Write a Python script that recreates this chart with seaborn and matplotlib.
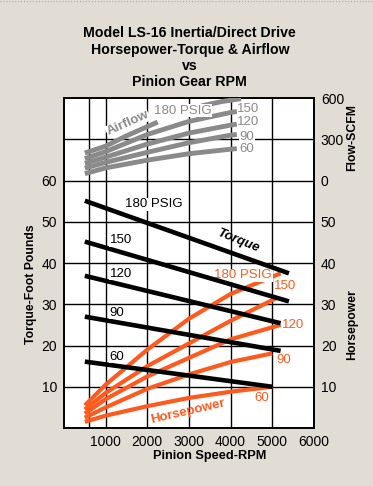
import numpy as np
import pandas as pd
import matplotlib
matplotlib.use("Agg")
import matplotlib.pyplot as plt
import seaborn as sns

# Presiuni (PSIG) pentru fiecare curba
psig = [180, 150, 120, 90, 60]

# Cuplu (ft-lb) - linii drepte
torque_rpm = [[500, 5400], [500, 5400], [500, 5200], [500, 5200], [500, 5000]]
torque_val = [[55.1, 37.5], [45.2, 30.7], [36.9, 25.4], [27.0, 18.7], [16.1, 10.0]]

# Putere (HP)
hp_rpm = [[500, 1000, 2000, 3000, 4000, 5200],
          [500, 1000, 2000, 3000, 4000, 5100],
          [500, 1000, 2000, 3000, 4000, 5200],
          [500, 1000, 2000, 3000, 4000, 5000],
          [500, 1000, 2000, 3000, 4000, 5000]]
hp_val = [[5.5, 10.5, 19.0, 26.5, 32.5, 37.5],
          [4.5, 8.5, 15.0, 20.5, 26.0, 31.5],
          [3.5, 7.0, 12.5, 17.0, 21.5, 25.0],
          [2.5, 5.0, 9.5, 13.0, 16.0, 18.1],
          [1.5, 3.0, 5.3, 7.3, 8.8, 10.0]]

# Debit aer (SCFM); linia de 180 PSIG e intrerupta de eticheta
flow_names = ["180a", "180b", "150", "120", "90", "60"]
flow_rpm = [[500, 1000, 1500, 2250],
            [3300, 3800, 4250],
            [500, 1000, 2000, 3000, 4000, 4150],
            [500, 1000, 2000, 3000, 4000, 4150],
            [500, 1000, 2000, 3000, 4000, 4150],
            [500, 1000, 2000, 3000, 4000, 4150]]
flow_val = [[200, 250, 325, 425],
            [543, 575, 595],
            [160, 210, 335, 430, 495, 502],
            [125, 170, 265, 345, 403, 410],
            [90, 132, 205, 275, 330, 335],
            [50, 92, 148, 195, 228, 232]]

x_ticks = [1000, 2000, 3000, 4000, 5000, 6000]
left_ticks = [10, 20, 30, 40, 50, 60]
hp_ticks = [10, 20, 30, 40, 50]
flow_ticks = [0, 300, 600]

BG = "#E2DDD4"
ORANGE = "#FF5A1E"
GRAY = "#8A8A8A"
FS = 10
LFS = 9.5


def long_frame(rpm_lists, val_lists, names):
    rows = []
    for name, xs, ys in zip(names, rpm_lists, val_lists):
        for x, y in zip(xs, ys):
            rows.append({"rpm": x, "val": y, "psig": name})
    return pd.DataFrame(rows)


df_torque = long_frame(torque_rpm, torque_val, psig)
df_hp = long_frame(hp_rpm, hp_val, psig)
df_flow = long_frame(flow_rpm, flow_val, flow_names)

sns.set_theme(style="white")
plt.rcParams['font.family'] = ['Liberation Sans', 'DejaVu Sans']
plt.rcParams['text.color'] = 'black'
plt.rcParams['xtick.color'] = 'black'
plt.rcParams['ytick.color'] = 'black'

fig = plt.figure(figsize=(3.73, 4.86), dpi=100, facecolor=BG)
ax = fig.add_axes([0.1716, 0.1193, 0.670, 0.679])
ax.set_facecolor("white")

ax.set_xlim(0, 6000)
ax.set_ylim(0, 80)
ax.set_xticks(x_ticks)
ax.set_xticks([600], minor=True)
ax.set_yticks(left_ticks + [70])
ax.set_yticklabels([str(t) for t in left_ticks] + [""])
ax.tick_params(which="both", length=0, labelsize=FS, pad=5)
ax.grid(True, which="both", color="black", lw=1.0)
ax.set_axisbelow(True)
for s in ax.spines.values():
    s.set_color("black")
    s.set_linewidth(1.4)

# Putere - portocaliu
sns.lineplot(data=df_hp, x="rpm", y="val", units="psig", estimator=None,
             sort=False, color=ORANGE, lw=3.0, ax=ax, legend=False,
             solid_capstyle="butt", zorder=3)
# Cuplu - negru
sns.lineplot(data=df_torque, x="rpm", y="val", units="psig", estimator=None,
             sort=False, color="black", lw=3.3, ax=ax, legend=False,
             solid_capstyle="butt", zorder=4)
ax.set_xlabel("")
ax.set_ylabel("")

# axa dreapta pentru HP (aceeasi scala)
ax_hp = ax.twinx()
ax_hp.set_ylim(0, 80)
ax_hp.set_yticks(hp_ticks)
ax_hp.tick_params(length=0, labelsize=FS, pad=5)
ax_hp.grid(False)
for s in ax_hp.spines.values():
    s.set_visible(False)

# axa dreapta pentru debit: 0 SCFM la 60 ft-lb, 600 SCFM la 80
ax_fl = ax.twinx()
ax_fl.set_ylim(-1800, 600)
ax_fl.set_yticks(flow_ticks)
ax_fl.tick_params(length=0, labelsize=FS, pad=5)
ax_fl.grid(False)
for s in ax_fl.spines.values():
    s.set_visible(False)
sns.lineplot(data=df_flow, x="rpm", y="val", units="psig", estimator=None,
             sort=False, color=GRAY, lw=3.5, ax=ax_fl, legend=False,
             solid_capstyle="butt", zorder=3)
ax_fl.set_xlabel("")
ax_fl.set_ylabel("")
ax_fl.set_xlim(0, 6000)

box = dict(facecolor="white", edgecolor="none", pad=0.4)

# etichete cuplu
for txt, x, y in [("180 PSIG", 1460, 54.3), ("150", 1095, 45.5), ("120", 1095, 37.4),
                  ("90", 1095, 27.9), ("60", 1095, 17.3)]:
    ax.text(x, y, txt, ha="left", va="center", fontsize=LFS, color="black",
            bbox=box, zorder=5)
ax.text(4170, 45.3, "Torque", ha="center", va="center", fontsize=LFS,
        fontweight="bold", fontstyle="italic", rotation=-22, zorder=5)

# etichete putere (sub liniile negre)
for txt, x, y in [("180 PSIG", 3610, 37.0), ("150", 5050, 34.4), ("120", 5240, 24.9),
                  ("90", 5100, 16.5), ("60", 4570, 7.2)]:
    ax.text(x, y, txt, ha="left", va="center", fontsize=LFS, color=ORANGE,
            bbox=box, zorder=3.5)
ax.text(2970, 4.1, "Horsepower", ha="center", va="center", fontsize=LFS,
        fontweight="bold", color=ORANGE, rotation=13, zorder=5)

# etichete debit
for txt, x, y in [("180 PSIG", 2150, 507), ("150", 4160, 521), ("120", 4160, 428),
                  ("90", 4220, 313), ("60", 4220, 227)]:
    ax_fl.text(x, y, txt, ha="left", va="center", fontsize=LFS, color=GRAY,
               bbox=box, zorder=5)
ax_fl.text(1530, 415, "Airflow", ha="center", va="center", fontsize=LFS,
           fontweight="bold", color=GRAY, rotation=24, bbox=box, zorder=5)

# titlu si etichete axe
fig.text(0.509, 0.881, "Model LS-16 Inertia/Direct Drive\nHorsepower-Torque & Airflow\nvs\nPinion Gear RPM",
         ha="center", va="center", fontsize=10.2, fontweight="bold", linespacing=1.22)
fig.text(0.083, 0.416, "Torque-Foot Pounds", rotation=90, ha="center", va="center",
         fontsize=8.8, fontweight="bold")
fig.text(0.944, 0.333, "Horsepower", rotation=90, ha="center", va="center",
         fontsize=8.8, fontweight="bold")
fig.text(0.944, 0.718, "Flow-SCFM", rotation=90, ha="center", va="center",
         fontsize=8.8, fontweight="bold")
fig.text(0.563, 0.062, "Pinion Speed-RPM", ha="center", va="center",
         fontsize=9.2, fontweight="bold")

fig.add_artist(plt.Line2D([0, 1], [0.998, 0.998], ls=":", lw=0.8, color="#B0A898"))

fig.savefig("out.png", dpi=100, facecolor=BG)
